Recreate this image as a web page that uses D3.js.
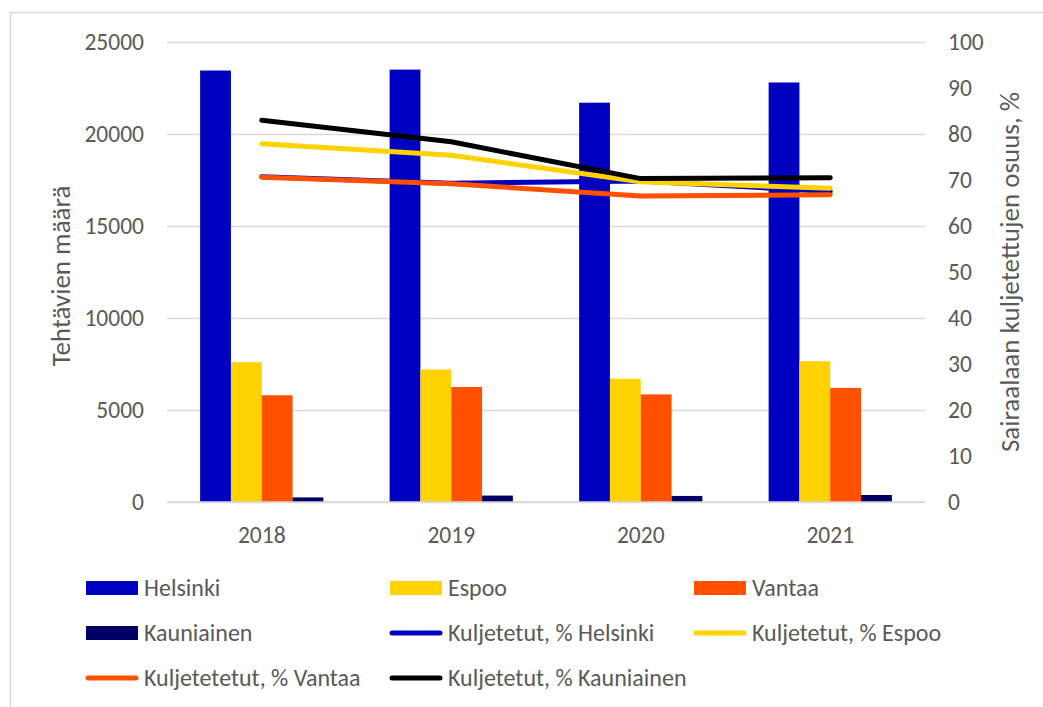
<!DOCTYPE html>
<html>
<head>
<meta charset="utf-8">
<script src="https://cdn.jsdelivr.net/npm/d3@7"></script>
<style>
  html, body { margin: 0; padding: 0; background: #fff; }
  svg { display: block; }
  text { font-family: Carlito, Calibri, Lato, sans-serif; fill: #595959; }
</style>
</head>
<body>
<div id="chart"></div>
<script>
// values
const years = ["2018", "2019", "2020", "2021"];
const helsinki = [23450, 23500, 21700, 22800];
const espoo = [7600, 7200, 6700, 7650];
const vantaa = [5800, 6250, 5850, 6200];
const kauniainen = [250, 350, 330, 380];

const pctHelsinki = [70.7, 69.3, 69.8, 67.5];
const pctEspoo = [77.9, 75.4, 69.6, 68.2];
const pctVantaa = [70.6, 69.2, 66.5, 66.8];
const pctKauniainen = [83.0, 78.3, 70.3, 70.5];

const leftTicks = [0, 5000, 10000, 15000, 20000, 25000];
const rightTicks = [0, 10, 20, 30, 40, 50, 60, 70, 80, 90, 100];

const barSeries = [
  { name: "Helsinki", values: helsinki, color: "#0000C0" },
  { name: "Espoo", values: espoo, color: "#FFD200" },
  { name: "Vantaa", values: vantaa, color: "#FF5000" },
  { name: "Kauniainen", values: kauniainen, color: "#000066" }
];
const lineSeries = [
  { name: "Kuljetetut, % Helsinki", values: pctHelsinki, color: "#0000C0" },
  { name: "Kuljetetut, % Espoo", values: pctEspoo, color: "#FFD200" },
  { name: "Kuljetetetut, % Vantaa", values: pctVantaa, color: "#FF5000" },
  { name: "Kuljetetut, % Kauniainen", values: pctKauniainen, color: "#000000" }
];

const W = 1043, H = 707;
const plot = { left: 167, right: 925, top: 42, bottom: 502 };
const grid = "#d9d9d9";
const tickFont = "23.5px";

const svg = d3.select("#chart").append("svg")
  .attr("width", W).attr("height", H);

// chart frame (only top and left edge fall inside the window)
svg.append("path")
  .attr("d", `M10.5,${H} V12.5 H${W}`)
  .attr("fill", "none").attr("stroke", grid).attr("stroke-width", 1.5);

const x0 = d3.scaleBand().domain(years).range([plot.left, plot.right]);
const gap = 2.15; // excel style gap width, in bar widths
const barW = x0.bandwidth() / (barSeries.length + gap);
const x1 = d3.scaleBand().domain(barSeries.map(d => d.name))
  .range([barW * gap / 2, x0.bandwidth() - barW * gap / 2]);

const yL = d3.scaleLinear().domain([0, 25000]).range([plot.bottom, plot.top]);
const yR = d3.scaleLinear().domain([0, 100]).range([plot.bottom, plot.top]);

// gridlines
const gridAxis = d3.axisLeft(yL).tickValues(leftTicks)
  .tickSize(-(plot.right - plot.left)).tickFormat("");
const g = svg.append("g").attr("transform", `translate(${plot.left},0)`).call(gridAxis);
g.select(".domain").remove();
g.selectAll(".tick line").attr("stroke", grid).attr("stroke-width", 1.5);

// left axis labels
const la = svg.append("g").attr("transform", `translate(${plot.left - 23},0)`)
  .call(d3.axisLeft(yL).tickValues(leftTicks).tickSize(0).tickPadding(0).tickFormat(d3.format("d")));
la.select(".domain").remove();
la.selectAll("text").style("font-size", tickFont).attr("fill", "#595959").attr("font-family", null);

// right axis labels
const ra = svg.append("g").attr("transform", `translate(${plot.right + 23},0)`)
  .call(d3.axisRight(yR).tickValues(rightTicks).tickSize(0).tickPadding(0));
ra.select(".domain").remove();
ra.selectAll("text").style("font-size", tickFont).attr("fill", "#595959").attr("font-family", null);

// x axis labels
const xa = svg.append("g").attr("transform", `translate(0,${plot.bottom + 33})`)
  .call(d3.axisBottom(x0).tickSize(0).tickPadding(0));
xa.select(".domain").remove();
xa.selectAll("text").style("font-size", tickFont).attr("fill", "#595959")
  .attr("font-family", null).attr("dy", "0.35em");

// bars
const groups = svg.append("g").selectAll("g").data(years).join("g")
  .attr("transform", d => `translate(${x0(d)},0)`);
groups.selectAll("rect")
  .data((yr, i) => barSeries.map(s => ({ s, v: s.values[i] })))
  .join("rect")
  .attr("x", d => x1(d.s.name))
  .attr("width", x1.bandwidth())
  .attr("y", d => yL(d.v))
  .attr("height", d => yL(0) - yL(d.v))
  .attr("fill", d => d.s.color);

// axis base line
svg.append("line")
  .attr("x1", plot.left).attr("x2", plot.right)
  .attr("y1", yL(0)).attr("y2", yL(0))
  .attr("stroke", grid).attr("stroke-width", 1.5);

// lines
const line = d3.line()
  .x((d, i) => x0(years[i]) + x0.bandwidth() / 2)
  .y(d => yR(d));
svg.append("g").selectAll("path").data(lineSeries).join("path")
  .attr("d", d => line(d.values))
  .attr("fill", "none")
  .attr("stroke", d => d.color)
  .attr("stroke-width", 5)
  .attr("stroke-linejoin", "round")
  .attr("stroke-linecap", "round");

// axis titles
svg.append("text")
  .attr("transform", `translate(70,${(plot.top + plot.bottom) / 2 + 4}) rotate(-90)`)
  .attr("text-anchor", "middle")
  .style("font-size", "27px")
  .text("Tehtävien määrä");
svg.append("text")
  .attr("transform", `translate(1019,${(plot.top + plot.bottom) / 2}) rotate(-90)`)
  .attr("text-anchor", "middle")
  .style("font-size", "27px")
  .text("Sairaalaan kuljetettujen osuus, %");

// legend
const legendItems = [
  { type: "bar", s: barSeries[0] }, { type: "bar", s: barSeries[1] }, { type: "bar", s: barSeries[2] },
  { type: "bar", s: barSeries[3] }, { type: "line", s: lineSeries[0] }, { type: "line", s: lineSeries[1] },
  { type: "line", s: lineSeries[2] }, { type: "line", s: lineSeries[3] }
];
const leg = svg.append("g").selectAll("g").data(legendItems).join("g")
  .attr("transform", (d, i) => `translate(${86 + (i % 3) * 304},${588 + Math.floor(i / 3) * 45})`);
leg.filter(d => d.type === "bar").append("rect")
  .attr("x", 0).attr("y", -7).attr("width", 52).attr("height", 14)
  .attr("fill", d => d.s.color);
leg.filter(d => d.type === "line").append("line")
  .attr("x1", 2).attr("x2", 50).attr("y1", 0).attr("y2", 0)
  .attr("stroke", d => d.s.color).attr("stroke-width", 5).attr("stroke-linecap", "round");
leg.append("text")
  .attr("x", 58).attr("y", 0).attr("dy", "0.35em")
  .style("font-size", "24px")
  .text(d => d.s.name);
</script>
</body>
</html>
